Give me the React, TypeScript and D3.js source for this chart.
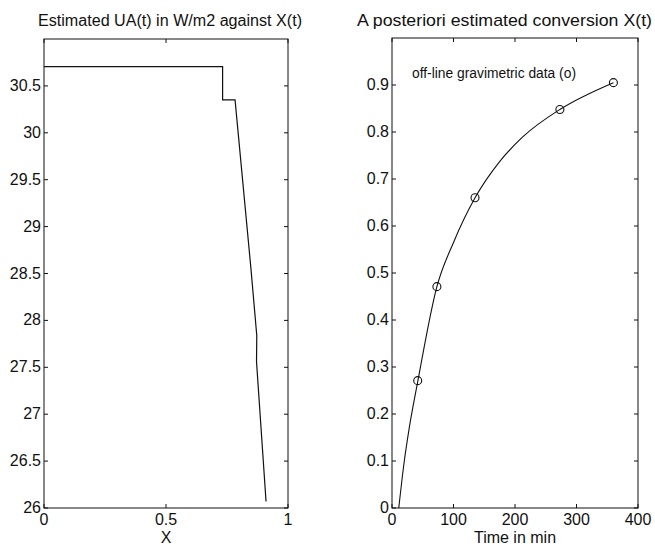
import React from "react";
import * as d3 from "d3";

// Left panel: estimated UA(t) against X(t)
const uaX = [0, 0.732, 0.732, 0.783, 0.848, 0.872, 0.871, 0.91];
const uaY = [30.705, 30.705, 30.35, 30.35, 28.555, 27.84, 27.56, 26.07];
const leftYTicks = [26, 26.5, 27, 27.5, 28, 28.5, 29, 29.5, 30, 30.5];
const leftXTicks = [0, 0.5, 1];

// Right panel: estimated conversion X(t)
const curveT = [11, 20, 28, 42, 73, 100, 135, 175, 213, 273, 360];
const curveX = [0, 0.1, 0.17, 0.27, 0.471, 0.565, 0.66, 0.737, 0.79, 0.848, 0.905];
const dataT = [41.8, 73, 135, 273, 360];
const dataX = [0.271, 0.471, 0.66, 0.848, 0.905];
const rightYTicks = [0, 0.1, 0.2, 0.3, 0.4, 0.5, 0.6, 0.7, 0.8, 0.9];
const rightXTicks = [0, 100, 200, 300, 400];

const FONT = "'Liberation Sans', Arial, Helvetica, sans-serif";

type PanelProps = {
  x0: number; x1: number; y0: number; y1: number;
  xDom: [number, number]; yDom: [number, number];
  xTicks: number[]; yTicks: number[];
  title: string; titleX: number; titleLen: number; titleSize: number; xlabel: string;
  children: (xs: d3.ScaleLinear<number, number>, ys: d3.ScaleLinear<number, number>) => React.ReactNode;
};

function Panel(p: PanelProps) {
  const xs = d3.scaleLinear().domain(p.xDom).range([p.x0, p.x1]);
  const ys = d3.scaleLinear().domain(p.yDom).range([p.y1, p.y0]);
  const tl = 4;
  return (
    <g>
      <text x={p.titleX} y={26} fontSize={p.titleSize} fontFamily={FONT} fill="#111"
        textLength={p.titleLen} lengthAdjust="spacingAndGlyphs">{p.title}</text>
      {p.children(xs, ys)}
      <rect x={p.x0} y={p.y0} width={p.x1 - p.x0} height={p.y1 - p.y0} fill="none" stroke="#111" strokeWidth={1} />
      {p.xTicks.map((t) => (
        <g key={"x" + t}>
          <line x1={xs(t)} x2={xs(t)} y1={p.y1} y2={p.y1 - tl} stroke="#111" />
          <line x1={xs(t)} x2={xs(t)} y1={p.y0} y2={p.y0 + tl} stroke="#111" />
          <text x={xs(t)} y={p.y1 + 17} textAnchor="middle" fontSize={16} fontFamily={FONT} fill="#111">{String(t)}</text>
        </g>
      ))}
      {p.yTicks.map((t) => (
        <g key={"y" + t}>
          <line x1={p.x0} x2={p.x0 + tl} y1={ys(t)} y2={ys(t)} stroke="#111" />
          <line x1={p.x1} x2={p.x1 - tl} y1={ys(t)} y2={ys(t)} stroke="#111" />
          <text x={p.x0 - 3} y={ys(t) + 5} textAnchor="end" fontSize={16} fontFamily={FONT} fill="#111">{String(t)}</text>
        </g>
      ))}
      <text x={(p.x0 + p.x1) / 2} y={p.y1 + 35} textAnchor="middle" fontSize={16} fontFamily={FONT} fill="#111">{p.xlabel}</text>
    </g>
  );
}

export default function App() {
  const line = d3.line<[number, number]>();
  const smooth = d3.line<[number, number]>().curve(d3.curveMonotoneX);
  return (
    <svg width={655} height={548} style={{ position: "absolute", left: 0, top: 0, background: "#fff" }}>
      <rect width={655} height={548} fill="#fff" />
      <Panel x0={44} x1={288} y0={39} y1={508} xDom={[0, 1]} yDom={[26, 31]}
        xTicks={leftXTicks} yTicks={leftYTicks}
        title="Estimated UA(t) in W/m2 against X(t)" titleX={38} titleLen={264} titleSize={16} xlabel="X">
        {(xs, ys) => (
          <path d={line(uaX.map((v, i) => [xs(v), ys(uaY[i])]) as [number, number][]) || ""}
            fill="none" stroke="#111" strokeWidth={1.2} />
        )}
      </Panel>
      <Panel x0={392} x1={638} y0={38} y1={508} xDom={[0, 400]} yDom={[0, 1]}
        xTicks={rightXTicks} yTicks={rightYTicks}
        title="A posteriori estimated conversion X(t)" titleX={357} titleLen={295} titleSize={17} xlabel="Time in min">
        {(xs, ys) => (
          <g>
            <path d={smooth(curveT.map((v, i) => [xs(v), ys(curveX[i])]) as [number, number][]) || ""}
              fill="none" stroke="#111" strokeWidth={1.1} />
            {dataT.map((t, i) => (
              <circle key={i} cx={xs(t)} cy={ys(dataX[i])} r={4} fill="none" stroke="#111" strokeWidth={1.1} />
            ))}
            <text x={412} y={78} fontSize={14} fontFamily={FONT} fill="#111"
              textLength={164} lengthAdjust="spacingAndGlyphs">off-line gravimetric data (o)</text>
          </g>
        )}
      </Panel>
    </svg>
  );
}
